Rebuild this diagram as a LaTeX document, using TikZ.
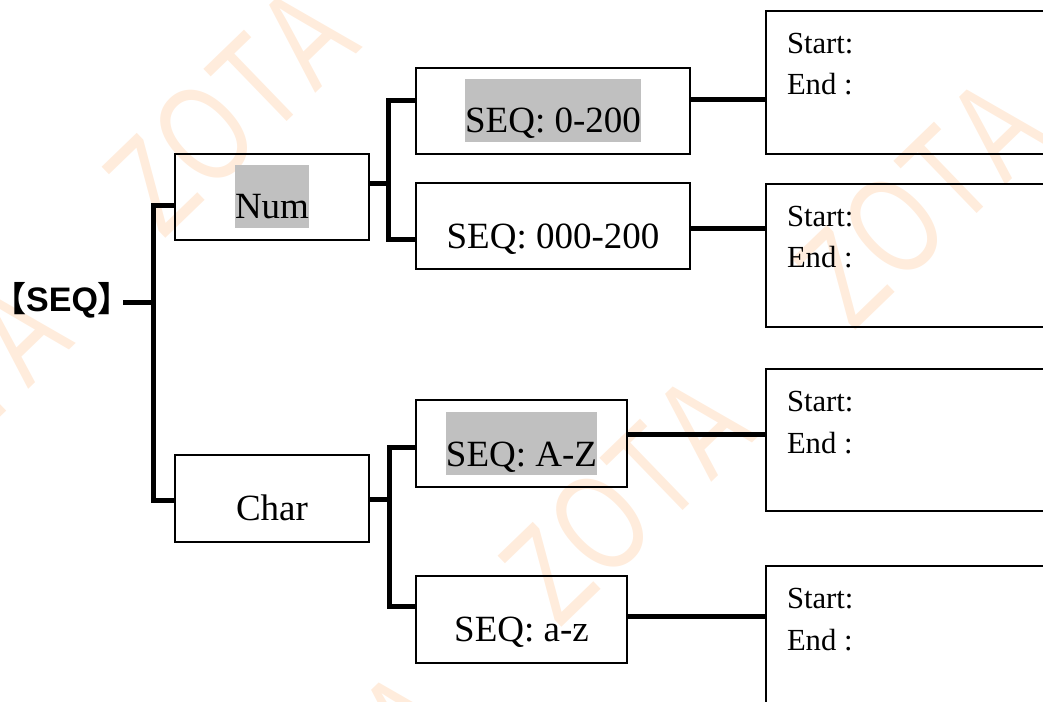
\documentclass[tikz,border=0pt]{standalone}
\usepackage{fontspec}
\setmainfont{Liberation Serif}
\newfontfamily\sansb{Liberation Sans}
\newfontfamily\cjk{Noto Sans CJK SC}
\newfontfamily\wmfont{Liberation Sans}[FakeStretch=0.72]
\usetikzlibrary{calc}
\definecolor{hl}{RGB}{192,192,192}
\definecolor{wmc}{RGB}{255,236,220}
\def\px{0.75pt}
\begin{document}
\begin{tikzpicture}[x=0.75pt,y=-0.75pt,
  conn/.style={line width=3.75pt, line join=miter, line cap=butt},
  box/.style={draw, line width=1.5pt, inner sep=0pt, outer sep=0pt},
  rbox/.style={draw, line width=1.9pt, inner sep=0pt, outer sep=0pt, minimum width=304*\px, minimum height=143*\px},
  lbl/.style={inner sep=0pt, outer sep=0pt, anchor=base, text height=54*\px, text depth=9*\px, font=\fontsize{27.75}{30}\selectfont},
  hlbl/.style={lbl, fill=hl},
  stext/.style={inner sep=0pt, outer sep=0pt, anchor=base west, font=\fontsize{23}{26}\selectfont},
  wm/.style={inner sep=0pt, text=wmc, rotate=44, font=\wmfont\fontsize{104}{108}\selectfont}]
\useasboundingbox (0,0) rectangle (1043,702);
\clip (0,0) rectangle (1043,702);
% watermarks
\node[wm] (wm1) at (230,110) {Z\kern3pt O\kern3pt T\kern3pt A};
\node[wm] (wm2) at (626,499) {Z\kern3pt O\kern3pt T\kern3pt A};
\node[wm] (wm3) at (920,202) {Z\kern3pt O\kern3pt T\kern3pt A};
\node[wm] (wm4) at (-57,406) {Z\kern3pt O\kern3pt T\kern3pt A};
\node[wm] (wm5) at (332,795) {Z\kern3pt O\kern3pt T\kern3pt A};
% root label
\node[inner sep=0pt, outer sep=0pt, anchor=base east, font=\fontsize{25.5}{28}\selectfont] (seq) at (132,311.5)
  {{\cjk\bfseries 【}{\sansb\bfseries SEQ}{\cjk\bfseries 】}};
% level 1
\node[box, minimum width=194*\px, minimum height=86*\px] (num) at (272,197) {};
\node[hlbl] (numT) at ($(num.north)+(0,65)$) {Num};
\node[box, minimum width=194*\px, minimum height=87*\px] (char) at (272,498.5) {};
\node[lbl] (charT) at ($(char.north)+(0,65)$) {Char};
% level 2
\node[box, minimum width=274*\px, minimum height=86*\px] (s1) at (553,111) {};
\node[hlbl] (s1T) at ($(s1.north)+(0,65)$) {SEQ: 0-200};
\node[box, minimum width=274*\px, minimum height=86*\px] (s2) at (553,226) {};
\node[lbl] (s2T) at ($(s2.north)+(0,66)$) {SEQ: 000-200};
\node[box, minimum width=211*\px, minimum height=87*\px] (s3) at (521.5,443.5) {};
\node[hlbl] (s3T) at ($(s3.north)+(0,66)$) {SEQ: A-Z};
\node[box, minimum width=211*\px, minimum height=87*\px] (s4) at (521.5,619.5) {};
\node[lbl] (s4T) at ($(s4.north)+(0,65)$) {SEQ: a-z};
% level 3
\node[rbox] (r1) at (918,82.5) {};
\node[rbox] (r2) at (918,255.5) {};
\node[rbox, minimum height=142*\px] (r3) at (918,440) {};
\node[rbox] (r4) at (918,637.5) {};
\foreach \r in {r1,r2,r3,r4}{
  \node[stext] (\r s) at ($(\r.north west)+(21,42.5)$) {Start:};
  \node[stext] (\r e) at ($(\r.north west)+(21,84)$) {End :};
}
% connectors
\coordinate (trunk) at (153.5,302.5);
\coordinate (nj) at (388.5,183.5);
\coordinate (cj) at (389,499.5);
\coordinate (stem) at ($(seq.east |- trunk)+(-9,0)$);
\draw[conn] (stem) -- (trunk);
\draw[conn] ($(num.west)+(0,8.5)$) -| (trunk) |- ($(char.west)+(0,2)$);
\draw[conn] ($(num.east)+(0,-13.5)$) -- (nj);
\draw[conn] ($(s1.west)+(0,-10.5)$) -| (nj) |- ($(s2.west)+(0,13.5)$);
\draw[conn] ($(char.east)+(0,1)$) -- (cj);
\draw[conn] ($(s3.west)+(0,3.5)$) -| (cj) |- ($(s4.west)+(0,-13.5)$);
\coordinate (c1) at ($(s1.east)+(0,-11.5)$);
\coordinate (c2) at ($(s2.east)+(0,2.5)$);
\coordinate (c3) at ($(s3.east)+(0,-9)$);
\coordinate (c4) at ($(s4.east)+(0,-3.5)$);
\draw[conn] (c1) -- (c1 -| r1.west);
\draw[conn] (c2) -- (c2 -| r2.west);
\draw[conn] (c3) -- (c3 -| r3.west);
\draw[conn] (c4) -- (c4 -| r4.west);
\end{tikzpicture}
\end{document}
